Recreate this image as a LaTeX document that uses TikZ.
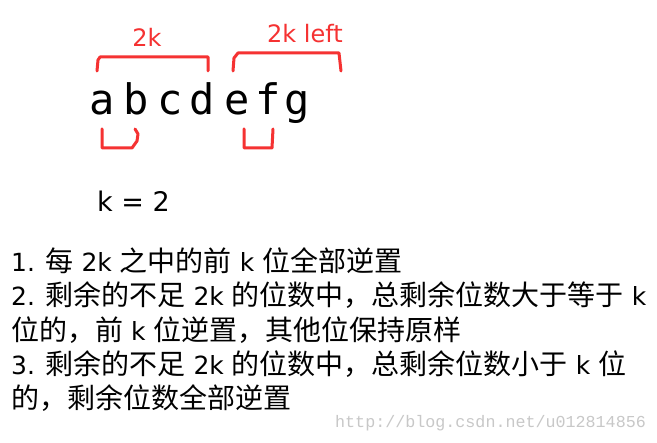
\documentclass[tikz,border=0pt]{standalone}
\usepackage{fontspec}
\setmainfont{DejaVu Sans}
\newfontfamily\cjkfont{Noto Sans CJK SC}
\newfontfamily\monofont{DejaVu Sans Mono}
\newfontfamily\wmfont{Liberation Mono}
\definecolor{pen}{RGB}{245,50,50}
\definecolor{wmgray}{RGB}{200,200,200}
\newcommand\Cj[1]{{\cjkfont\fontsize{28}{28}\selectfont #1}}
\tikzset{
  pen/.style={draw=pen, line width=3pt, line cap=round, line join=round},
  letter/.style={anchor=base, inner sep=0pt, font=\monofont\fontsize{42}{42}\selectfont},
  redlabel/.style={anchor=base, inner sep=0pt, text=pen, font=\fontsize{24}{24}\selectfont},
  listline/.style={anchor=base west, inner sep=0pt, font=\fontsize{25}{25}\selectfont},
}
\begin{document}
\begin{tikzpicture}[x=1pt,y=-1pt]
\useasboundingbox (0,0) rectangle (657,443);
\fill[white] (0,0) rectangle (657,443);
% letters
\node[letter] (a) at (102,115) {a};
\node[letter] (b) at (136,115) {b};
\node[letter] (c) at (170,115) {c};
\node[letter] (d) at (202,115) {d};
\node[letter] (e) at (237,115) {e};
\node[letter] (f) at (268,115) {f};
\node[letter] (g) at (297,115) {g};
% red labels
\node[redlabel] (l2k) at (147,47) {2k};
\node[redlabel] (l2kl) at (305,43) {2k left};
% brackets
\draw[pen] (97,71) -- (98,60) -- (100,57) -- (208,57) -- (208,71);
\draw[pen] (233,71) -- (234,58) -- (238,53) -- (339,53) -- (341,71);
\draw[pen] (102,129) -- (102,148) -- (132,148) -- (137,141) -- (138,134) -- (135,129);
\draw[pen] (244,129) -- (244,148) -- (272,148) -- (273,129);
% k = 2
\node[anchor=base west, inner sep=0pt, font=\fontsize{27}{27}\selectfont] (keq) at (97,212) {k = 2};
% list
\node[listline] (r1) at (11,272) {1. \Cj{每} 2k \Cj{之中的前} k \Cj{位全部逆置}};
\node[listline] (r2) at (11,306) {2. \Cj{剩余的不足} 2k \Cj{的位数中，总剩余位数大于等于} k};
\node[listline] (r3) at (11,341) {\Cj{位的，前} k \Cj{位逆置，其他位保持原样}};
\node[listline] (r4) at (11,375) {3. \Cj{剩余的不足} 2k \Cj{的位数中，总剩余位数小于} k \Cj{位}};
\node[listline] (r5) at (11,409) {\Cj{的，剩余位数全部逆置}};
% watermark
\node[anchor=base west, inner sep=0pt, text=wmgray, font=\wmfont\fontsize{16.7}{16.7}\selectfont] (wm) at (335,428) {http://blog.csdn.net/u012814856};
\end{tikzpicture}
\end{document}
